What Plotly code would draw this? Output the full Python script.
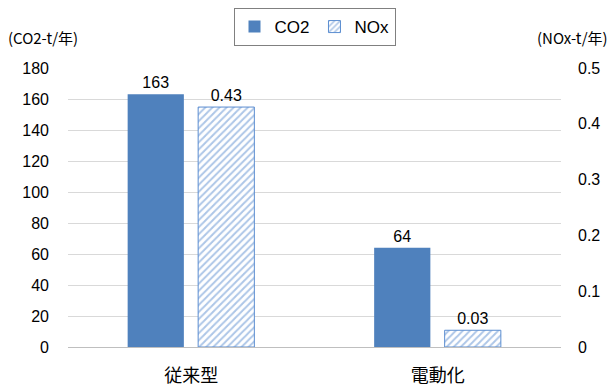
import plotly.graph_objects as go

categories = ["従来型", "電動化"]
co2_values = [163, 64]
nox_values = [0.43, 0.03]
co2_labels = ["163", "64"]
nox_labels = ["0.43", "0.03"]
left_ticks = [0, 20, 40, 60, 80, 100, 120, 140, 160, 180]
right_ticks = [0, 0.1, 0.2, 0.3, 0.4, 0.5]
right_tick_text = ["0", "0.1", "0.2", "0.3", "0.4", "0.5"]

blue = "#4f81bd"
hatch = "#5b8dd0"
font_num = "Liberation Sans, Arial, sans-serif"
font_jp = "Noto Sans CJK JP, sans-serif"

fig = go.Figure()
fig.add_trace(go.Bar(
    x=categories, y=co2_values, name="CO2", yaxis="y",
    marker=dict(color=blue, line=dict(width=0)),
    width=0.228, offset=-0.258,
    text=co2_labels, textposition="outside", cliponaxis=False,
    textfont=dict(size=16, color="#000000", family=font_num),
))
fig.add_trace(go.Bar(
    x=categories, y=nox_values, name="NOx", yaxis="y2",
    marker=dict(color="white",
                line=dict(width=1, color=hatch),
                pattern=dict(shape="/", fgcolor=hatch, bgcolor="white",
                             size=5, solidity=0.4)),
    width=0.228, offset=0.028,
    text=nox_labels, textposition="outside", cliponaxis=False,
    textfont=dict(size=16, color="#000000", family=font_num),
))

fig.update_layout(
    width=615, height=390,
    margin=dict(l=68, r=54, t=68, b=43, autoexpand=False),
    paper_bgcolor="white", plot_bgcolor="white",
    barmode="overlay",
    font=dict(family=font_num, size=16, color="#000000"),
    showlegend=True,
    legend=dict(orientation="h", x=0.5, xanchor="center", y=1.215, yanchor="top",
                bordercolor="#808080", borderwidth=1,
                font=dict(size=17, family=font_num),
                itemwidth=30, traceorder="normal"),
    xaxis=dict(type="category", showgrid=False, showline=False, zeroline=False,
               automargin=False,
               tickfont=dict(size=18, family=font_jp), ticks="", ticklabelstandoff=16),
    yaxis=dict(range=[0, 180], tickvals=left_ticks, showgrid=True, gridcolor="#d9d9d9",
               gridwidth=1, zeroline=True, zerolinecolor="#bfbfbf", zerolinewidth=1,
               showline=False, ticks="", ticklabelstandoff=18, automargin=False,
               tickfont=dict(size=16)),
    yaxis2=dict(range=[0, 0.5], tickvals=right_ticks, ticktext=right_tick_text,
                overlaying="y", side="right", showgrid=False, zeroline=False,
                showline=False, ticks="", ticklabelstandoff=16, automargin=False,
                tickfont=dict(size=16)),
    annotations=[
        dict(text="(CO2-t/年)", xref="paper", yref="paper", x=-0.125, y=1.065,
             xanchor="left", yanchor="bottom", showarrow=False,
             font=dict(size=15, family=font_jp)),
        dict(text="(NOx-t/年)", xref="paper", yref="paper", x=1.10, y=1.065,
             xanchor="right", yanchor="bottom", showarrow=False,
             font=dict(size=15, family=font_jp)),
    ],
)

fig.write_html("out.html")
